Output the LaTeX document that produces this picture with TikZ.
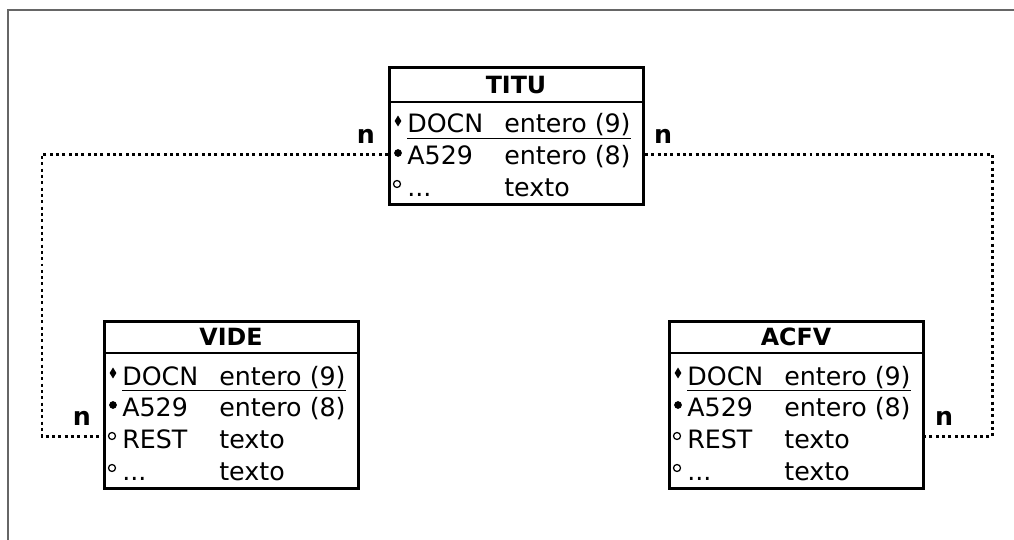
\documentclass[tikz,border=0pt]{standalone}
\usepackage{fontspec}
\setmainfont{DejaVu Sans}
\usetikzlibrary{shapes.geometric}

\begin{document}
\begin{tikzpicture}[x=0.02cm,y=-0.02cm,
  tabla/.style={draw,line width=1.7pt,rectangle,anchor=north west,minimum width=144.6pt,inner sep=0pt},
  cab/.style={font=\fontsize{13.5}{15}\selectfont\bfseries},
  campo/.style={anchor=base west,inner sep=0pt,font=\fontsize{14.4}{16}\selectfont},
  clave/.style={diamond,fill,inner sep=0pt,minimum width=4pt,minimum height=6.4pt},
  punto/.style={circle,fill,inner sep=0pt,minimum size=4.4pt},
  hueco/.style={circle,draw,line width=0.7pt,inner sep=0pt,minimum size=4pt},
  rel/.style={line width=1.7pt,dash pattern=on 1.7pt off 1.9pt},
  card/.style={font=\fontsize{14.4}{16}\selectfont\bfseries},
  marco/.style={draw=black!60,line width=0.9pt}]
  \useasboundingbox (0,0) rectangle (1014,540);
  \draw[marco] (1014,10) -- (8,10) -- (8,540);

  % TITU
  \node[tabla,minimum height=78.2pt] (titu) at (388,66) {};
  \draw[line width=1.7pt] (titu.north west |- 0,102) -- (titu.north east |- 0,102);
  \node[cab] (titu-nom) at (516,85) {TITU};
  \node[clave] (titu-k) at (398,121) {};
  \node[campo] (titu-f1) at (407,133) {\underline{\makebox[55.2pt][l]{DOCN}entero (9)}};
  \node[punto] (titu-p) at (398,153) {};
  \node[campo] (titu-f2) at (407,165) {\makebox[55.2pt][l]{A529}entero (8)};
  \node[hueco] (titu-h) at (397,184) {};
  \node[campo] (titu-f3) at (407,197) {\makebox[55.2pt][l]{...}texto};

  % VIDE
  \node[tabla,minimum height=95.2pt] (vide) at (103,320) {};
  \draw[line width=1.7pt] (vide.north west |- 0,353) -- (vide.north east |- 0,353);
  \node[cab] (vide-nom) at (231,337) {VIDE};
  \node[clave] (vide-k) at (113,373) {};
  \node[campo] (vide-f1) at (122,385) {\underline{\makebox[55.2pt][l]{DOCN}entero (9)}};
  \node[punto] (vide-p) at (113,405) {};
  \node[campo] (vide-f2) at (122,417) {\makebox[55.2pt][l]{A529}entero (8)};
  \node[hueco] (vide-h1) at (112,436) {};
  \node[campo] (vide-f3) at (122,448) {\makebox[55.2pt][l]{REST}texto};
  \node[hueco] (vide-h2) at (112,468) {};
  \node[campo] (vide-f4) at (122,480) {\makebox[55.2pt][l]{...}texto};

  % ACFV
  \node[tabla,minimum height=95.2pt] (acfv) at (668,320) {};
  \draw[line width=1.7pt] (acfv.north west |- 0,353) -- (acfv.north east |- 0,353);
  \node[cab] (acfv-nom) at (796,337) {ACFV};
  \node[clave] (acfv-k) at (678,373) {};
  \node[campo] (acfv-f1) at (687,385) {\underline{\makebox[55.2pt][l]{DOCN}entero (9)}};
  \node[punto] (acfv-p) at (678,405) {};
  \node[campo] (acfv-f2) at (687,417) {\makebox[55.2pt][l]{A529}entero (8)};
  \node[hueco] (acfv-h1) at (677,436) {};
  \node[campo] (acfv-f3) at (687,448) {\makebox[55.2pt][l]{REST}texto};
  \node[hueco] (acfv-h2) at (677,468) {};
  \node[campo] (acfv-f4) at (687,480) {\makebox[55.2pt][l]{...}texto};

  % relaciones
  \draw[rel] ([yshift=-10.2pt]titu.west) -| (42,300) |- ([yshift=-18.1pt]vide.west);
  \draw[rel] ([yshift=-10.2pt]titu.east) -| (992,300) |- ([yshift=-18.1pt]acfv.east);
  \node[card] (n-titu1) at (366,136) {n};
  \node[card] (n-titu2) at (663,136) {n};
  \node[card] (n-vide) at (82,418) {n};
  \node[card] (n-acfv) at (944,418) {n};
\end{tikzpicture}
\end{document}
